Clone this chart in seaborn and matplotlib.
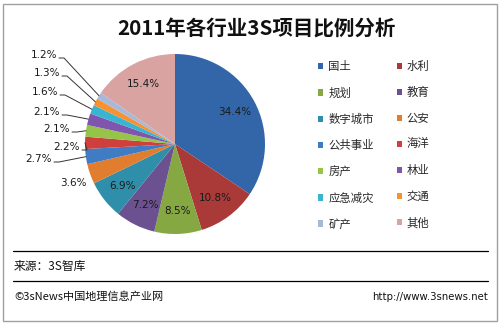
import numpy as np
import matplotlib
matplotlib.use("Agg")
import matplotlib.pyplot as plt
from matplotlib.patches import Rectangle, Patch
from matplotlib.lines import Line2D
import seaborn as sns

categories = ["国土", "水利", "规划", "教育", "数字城市", "公安", "公共事业",
              "海洋", "房产", "林业", "应急减灾", "交通", "矿产", "其他"]
values = [34.4, 10.8, 8.5, 7.2, 6.9, 3.6, 2.7, 2.2, 2.1, 2.1, 1.6, 1.3, 1.2, 15.4]
pct_labels = ["34.4%", "10.8%", "8.5%", "7.2%", "6.9%", "3.6%", "2.7%",
              "2.2%", "2.1%", "2.1%", "1.6%", "1.3%", "1.2%", "15.4%"]
title = "2011年各行业3S项目比例分析"
source_text = "来源：3S智库"
footer_left = "©3sNews中国地理信息产业网"
footer_right = "http://www.3snews.net"

sns.set_theme(style="white")
plt.rcParams['font.family'] = ['Noto Sans CJK SC', 'DejaVu Sans']

colors = sns.color_palette(["#3366a8", "#aa3a38", "#86a843", "#6c5190", "#2f8fab",
                            "#e07d2e", "#3f7cc4", "#cf3f3d", "#95c449", "#8055ae",
                            "#3bb4d2", "#f7922e", "#a8b8d8", "#d9a3a2"])

W, H = 500, 323
fig = plt.figure(figsize=(W / 100, H / 100), dpi=100)
fig.patch.set_facecolor("white")

# pie axes: center (175,144) px, radius 90 px
cx, cy, R = 175, 144, 90
ax = fig.add_axes([(cx - R) / W, (H - cy - R) / H, 2 * R / W, 2 * R / H])
wedges, _ = ax.pie(values, colors=colors, startangle=90, counterclock=False,
                   radius=1.0, wedgeprops=dict(linewidth=0))
ax.set_xlim(-1, 1)
ax.set_ylim(-1, 1)
ax.set_aspect("equal")
ax.axis("off")

def px2d(px, py):
    return (px - cx) / R, (cy - py) / R

total = sum(values)
cum = np.cumsum([0] + values)
inside = {0, 1, 2, 3, 4, 13}
lbl_fs = 7.5
# outside label text anchors (right end x, center y) in px
outside_pos = {6: (52, 159), 7: (80, 147), 8: (70, 129), 9: (60, 112),
               10: (58, 92), 11: (60, 73), 12: (57, 55)}
for i, v in enumerate(values):
    mid = (cum[i] + v / 2) / total
    ang = np.deg2rad(90 - mid * 360)
    if i in inside:
        r = 0.75
        ax.text(r * np.cos(ang), r * np.sin(ang), pct_labels[i], ha="center",
                va="center", fontsize=lbl_fs, color="#1a1a1a", family="DejaVu Sans")
    elif i == 5:
        tx, ty = px2d(73, 183)
        ax.text(tx, ty, pct_labels[i], ha="center", va="center", fontsize=lbl_fs,
                color="#1a1a1a", family="DejaVu Sans", clip_on=False)
    else:
        px_, py_ = outside_pos[i]
        tx, ty = px2d(px_, py_)
        ax.text(tx, ty, pct_labels[i], ha="right", va="center", fontsize=lbl_fs,
                color="#1a1a1a", family="DejaVu Sans", clip_on=False)
        ex, ey = np.cos(ang), np.sin(ang)
        x1, y1 = px2d(px_ + 2, py_ + 3)
        x2, y2 = px2d(px_ + 7, py_ + 3)
        ax.add_line(Line2D([x1, x2, ex], [y1, y2, ey], color="#333333",
                           linewidth=0.7, clip_on=False))

# legend, row-major order
handles = [Patch(facecolor=c, edgecolor="none") for c in colors]
order = list(range(0, 14, 2)) + list(range(1, 14, 2))
leg = fig.legend([handles[k] for k in order], [categories[k] for k in order],
                 ncol=2, loc="upper left", bbox_to_anchor=(318 / W, 1 - 61 / H),
                 frameon=False, fontsize=8.2, handlelength=0.45, handleheight=0.45,
                 handletextpad=0.45, columnspacing=2.0, labelspacing=1.33,
                 borderpad=0, borderaxespad=0)

fig.text(256 / W, 1 - 29 / H, title, ha="center", va="center", fontsize=14.8,
         fontweight="bold", color="#111111")

# footer lines
fig.add_artist(Line2D([13 / W, 488 / W], [1 - 251 / H, 1 - 251 / H],
                      color="black", linewidth=0.9))
fig.add_artist(Line2D([13 / W, 488 / W], [1 - 281 / H, 1 - 281 / H],
                      color="black", linewidth=0.9))
fig.text(14 / W, 1 - 266 / H, source_text, ha="left", va="center", fontsize=8.5,
         color="#111111")
fig.text(14 / W, 1 - 297 / H, footer_left, ha="left", va="center", fontsize=8,
         color="#111111")
fig.text(488 / W, 1 - 297 / H, footer_right, ha="right", va="center", fontsize=7.3,
         color="#111111", family="DejaVu Sans")

# outer frame
fig.add_artist(Rectangle((2.5 / W, 2.5 / H), (W - 6) / W, (H - 6) / H,
                         transform=fig.transFigure, fill=False,
                         edgecolor="#a0a0a0", linewidth=1))

fig.savefig("out.png", dpi=100, facecolor="white")
